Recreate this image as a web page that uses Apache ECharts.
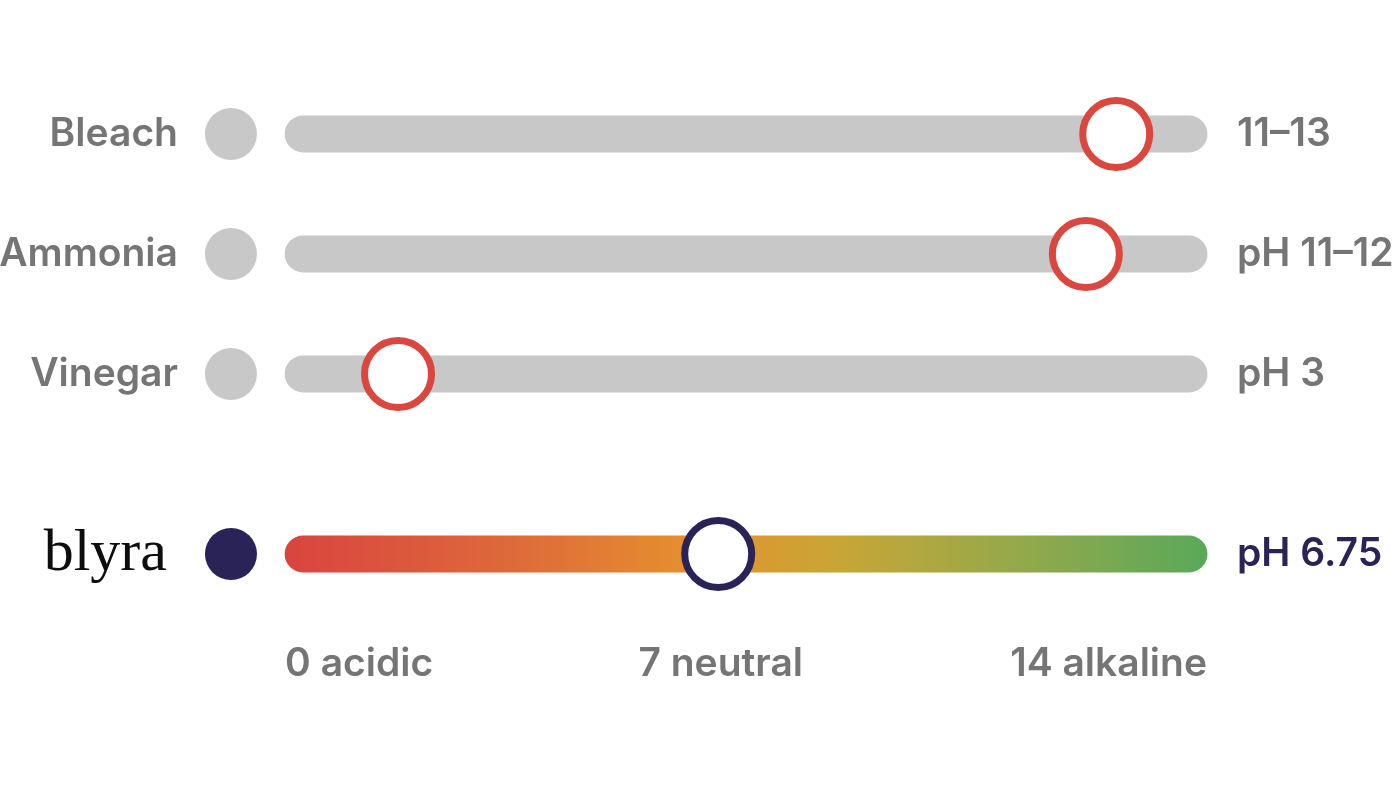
<!DOCTYPE html>
<html>
<head>
<meta charset="utf-8">
<script src="https://cdn.jsdelivr.net/npm/echarts@6/dist/echarts.min.js"></script>
<style>
  html, body { margin: 0; padding: 0; background: #fff; }
  #container { width: 1400px; height: 788px; }
</style>
</head>
<body>
<div id="container"></div>
<script>
// rows of the chart
var products = ['Bleach', 'Ammonia', 'Vinegar', 'blyra'];
var rowPos = [0, 1, 2, 3.5];
// where the marker sits on the 0-14 track
var markerPh = [12.85, 12.37, 1.5, 6.56];
var rangeText = ['11–13', 'pH 11–12', 'pH 3', 'pH 6.75'];
// scale labels under the tracks
var scaleTicks = [0, 6.6, 14];
var scaleText = ['0 acidic', '7 neutral', '14 alkaline'];

var GRAY = '#757575';
var NAVY = '#2a2358';
var RED = '#d9473e';
var TRACK = '#c8c8c8';
var DOT_X = -1.14;
var FONT = 'Inter';
var FSIZE = 39;

var dom = document.getElementById('container');
var myChart = echarts.init(dom);

var series = [];

// tracks
for (var i = 0; i < products.length; i++) {
    var isBrand = i === products.length - 1;
    series.push({
        type: 'line',
        silent: true,
        symbol: 'none',
        z: 1,
        data: [[0, rowPos[i]], [14, rowPos[i]]],
        lineStyle: {
            width: 37,
            cap: 'round',
            opacity: 1,
            color: isBrand ? new echarts.graphic.LinearGradient(285, 0, 1207, 0, [
                { offset: 0, color: '#d9443f' },
                { offset: 0.25, color: '#de6a3a' },
                { offset: 0.45, color: '#e6922d' },
                { offset: 0.6, color: '#c8a636' },
                { offset: 0.8, color: '#93a94b' },
                { offset: 1, color: '#5aa85a' }
            ], true) : TRACK
        }
    });
}

// left dots + names
series.push({
    type: 'scatter',
    silent: true,
    z: 2,
    symbolSize: 52,
    itemStyle: { opacity: 1 },
    data: products.map(function (p, i) {
        var isBrand = i === products.length - 1;
        return {
            value: [DOT_X, rowPos[i]],
            itemStyle: { color: isBrand ? NAVY : '#c8c8c8', opacity: 1 },
            label: isBrand ? {
                fontFamily: 'Liberation Serif',
                fontSize: 60,
                fontWeight: 'normal',
                color: '#0d0d0d',
                distance: 38
            } : {}
        };
    }),
    label: {
        show: true,
        position: 'left',
        distance: 27,
        fontFamily: FONT,
        fontSize: FSIZE,
        fontWeight: 600,
        color: GRAY,
        formatter: function (p) { return products[p.dataIndex]; }
    }
});

// markers
series.push({
    type: 'scatter',
    silent: true,
    z: 3,
    symbolSize: 67,
    data: markerPh.map(function (v, i) {
        var isBrand = i === products.length - 1;
        return {
            value: [v, rowPos[i]],
            itemStyle: { color: '#fff', opacity: 1, borderColor: isBrand ? NAVY : RED, borderWidth: 7 }
        };
    })
});

// right-hand pH text
series.push({
    type: 'scatter',
    silent: true,
    symbolSize: 0,
    itemStyle: { opacity: 1 },
    data: rangeText.map(function (t, i) {
        var isBrand = i === products.length - 1;
        return {
            value: [14, rowPos[i]],
            label: isBrand ? { color: NAVY } : {}
        };
    }),
    label: {
        show: true,
        position: 'right',
        distance: 48,
        fontFamily: FONT,
        fontSize: FSIZE,
        fontWeight: 600,
        color: GRAY,
        formatter: function (p) { return rangeText[p.dataIndex]; }
    }
});

// scale labels
series.push({
    type: 'scatter',
    silent: true,
    symbolSize: 0,
    itemStyle: { opacity: 1 },
    data: scaleTicks.map(function (v, i) {
        var align = i === 0 ? 'left' : (i === scaleTicks.length - 1 ? 'right' : 'center');
        var dx = i === 0 ? -18 : (i === scaleTicks.length - 1 ? 18 : 0);
        return {
            value: [v, 4.42],
            label: { align: align, offset: [dx, 0] }
        };
    }),
    label: {
        show: true,
        position: 'inside',
        fontFamily: FONT,
        fontSize: FSIZE,
        fontWeight: 600,
        color: GRAY,
        formatter: function (p) { return scaleText[p.dataIndex]; }
    }
});

var option = {
    animation: false,
    backgroundColor: '#fff',
    grid: { left: 50, right: 211, top: 14, bottom: 54 },
    xAxis: { type: 'value', min: -4, max: 14, show: false },
    yAxis: { type: 'value', min: -1, max: 5, inverse: true, show: false },
    series: series
};

myChart.setOption(option, true);
</script>
</body>
</html>
